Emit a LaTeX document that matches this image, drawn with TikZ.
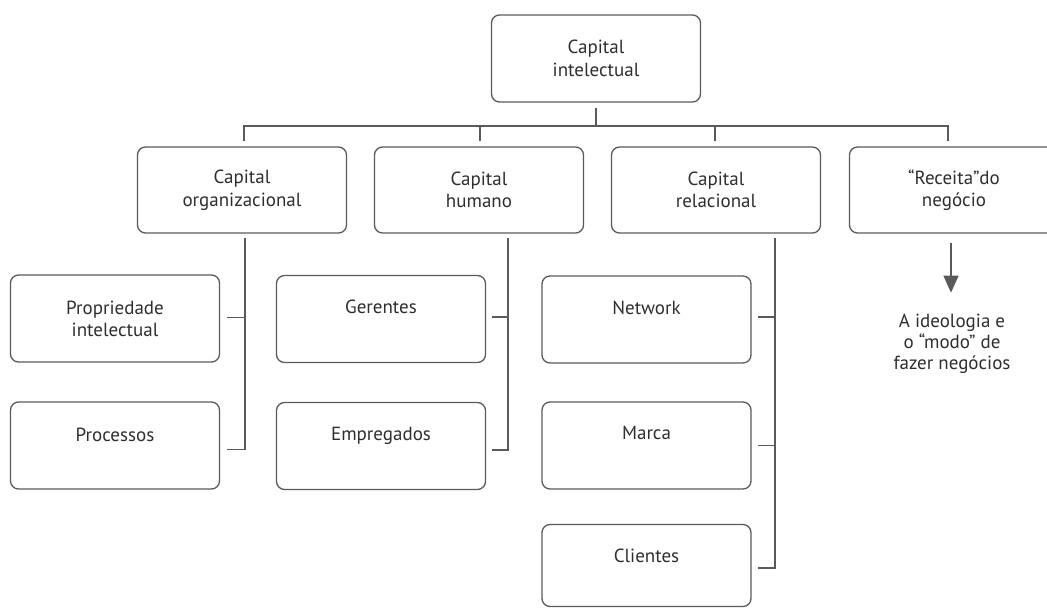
\documentclass[tikz,border=0pt]{standalone}
\usepackage{fontspec}
\setmainfont{PT Sans}
\usetikzlibrary{arrows.meta}
\definecolor{linegray}{HTML}{5A5A5A}
\definecolor{textgray}{HTML}{2E2E2E}
\begin{document}
\begin{tikzpicture}[x=1pt,y=-1pt,
  box/.style={draw=linegray, line width=1.3pt, rounded corners=8pt,
    minimum width=209pt, minimum height=87pt, inner sep=0pt},
  lowbox/.style={box, minimum height=82pt},
  txt/.style={text=textgray, font=\fontsize{19}{22.5}\selectfont,
    align=center, inner sep=0pt},
  conn/.style={draw=linegray, line width=1.3pt},
  tip/.style={-{Triangle[width=15pt,length=17pt]}}
]
\useasboundingbox (0,0) rectangle (1047,608);

% root
\node[box] (top) at (596,58.5) {};
\node[txt] (topt) at (top) {Capital\\intelectual};

% second level
\node[box, minimum height=86pt] (org) at (242,190) {};
\node[box, minimum height=86pt] (hum) at (479,190) {};
\node[box, minimum height=86pt] (rel) at (716,190) {};
\node[box, minimum height=86pt] (rec) at (954,190) {};
\node[txt] (orgt) at (org) {Capital\\organizacional};
\node[txt] (humt) at (hum) {Capital\\humano};
\node[txt] (relt) at (rel) {Capital\\relacional};
\node[txt] (rect) at (rec) {\char"201CReceita\char"201Ddo\\neg\'ocio};

% third level
\node[box] (prop) at (115,318.5) {};
\node[box] (proc) at (115,445.5) {};
\node[box] (ger)  at (381,319) {};
\node[box] (emp)  at (381,446) {};
\node[box] (net)  at (646.5,319.5) {};
\node[box] (mar)  at (646.5,445.5) {};
\node[lowbox] (cli) at (646.5,565.5) {};
\node[txt, anchor=north] (propt) at ([yshift=-26pt]prop.north) {Propriedade\\intelectual};
\node[txt, anchor=north] (proct) at ([yshift=-26pt]proc.north) {Processos};
\node[txt, anchor=north] (gert)  at ([yshift=-25pt]ger.north) {Gerentes};
\node[txt, anchor=north] (empt)  at ([yshift=-25pt]emp.north) {Empregados};
\node[txt, anchor=north] (nett)  at ([yshift=-25pt]net.north) {Network};
\node[txt, anchor=north] (mart)  at ([yshift=-25pt]mar.north) {Marca};
\node[txt, anchor=north] (clit)  at ([yshift=-25pt]cli.north) {Clientes};

% root to second level
\coordinate (junc) at (597,126);
\draw[conn] ([yshift=-5pt]top.south) -- (top.south |- junc);
\draw[conn] ([xshift=2pt,yshift=5pt]org.north) |- (junc);
\draw[conn] ([xshift=-6pt,yshift=5pt]rec.north) |- (junc);
\draw[conn] ([xshift=1pt,yshift=5pt]hum.north) -- ([xshift=1pt]hum.north |- junc);
\draw[conn] ([xshift=-1pt,yshift=5pt]rel.north) -- ([xshift=-1pt]rel.north |- junc);

% second level to third level
\coordinate (va) at (245,238);
\coordinate (vb) at (508,238);
\coordinate (vc) at (775,238);
\draw[conn] (va) |- ([xshift=7pt,yshift=-4pt]proc.east);
\draw[conn] ([xshift=7pt,yshift=1pt]prop.east) -- ([yshift=1pt]prop.east -| va);
\draw[conn] (vb) |- ([xshift=6pt,yshift=-4pt]emp.east);
\draw[conn] ([xshift=6pt,yshift=2pt]ger.east) -- ([yshift=2pt]ger.east -| vb);
\draw[conn] (vc) |- ([xshift=6pt,yshift=-2.5pt]cli.east);
\draw[conn] ([xshift=6pt,yshift=2.5pt]net.east) -- ([yshift=2.5pt]net.east -| vc);
\draw[conn] ([xshift=6pt]mar.east) -- (mar.east -| vc);

% business recipe
\node[txt, font=\fontsize{19}{21}\selectfont, anchor=north] (idea) at (952,314) {A ideologia e\\o \char"201Cmodo\char"201D{} de\\fazer neg\'ocios};
\draw[conn, tip, fill=linegray] ([xshift=-3pt,yshift=-9pt]rec.south) -- ([xshift=-3pt,yshift=-59pt]rec.south);
\end{tikzpicture}
\end{document}
